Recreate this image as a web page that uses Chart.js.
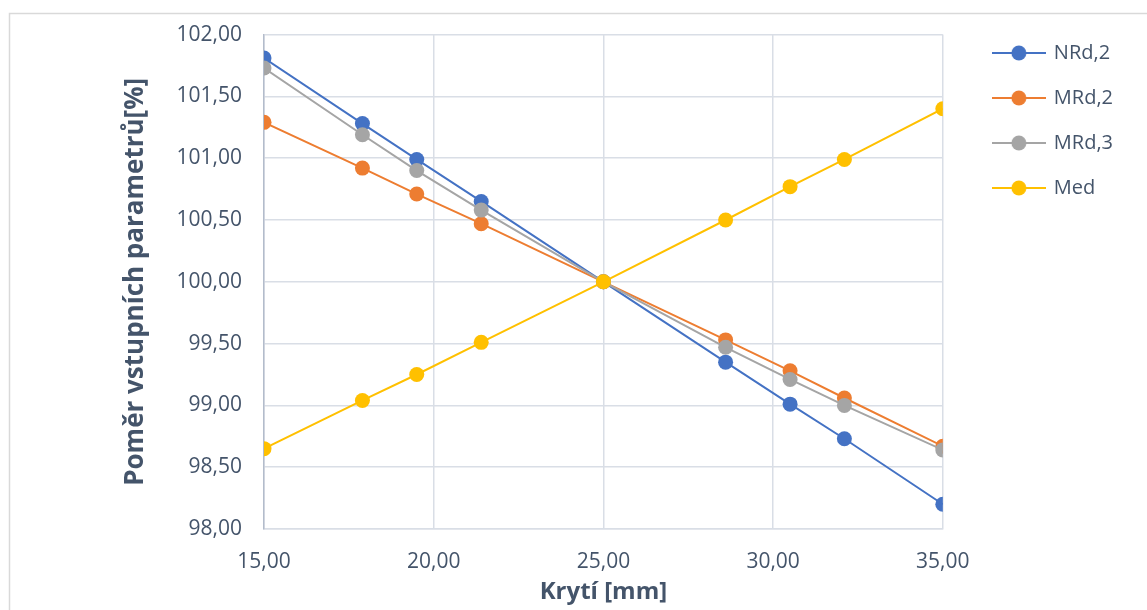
<!DOCTYPE html>
<html>
<head>
<meta charset="utf-8">
<script src="https://cdn.jsdelivr.net/npm/chart.js@4.4.1/dist/chart.umd.min.js"></script>
<style>
  html, body { margin: 0; padding: 0; background: #fff; }
  #wrap { position: relative; width: 1147px; height: 610px; }
</style>
</head>
<body>
<div id="wrap"><canvas id="graf"></canvas></div>
<script>
// tloušťka krytí [mm]
const kryti = [15, 17.9, 19.5, 21.4, 25, 28.6, 30.5, 32.1, 35];

// poměr vůči výchozímu stavu [%]
const nrd2 = [101.81, 101.28, 100.99, 100.65, 100.00, 99.35, 99.01, 98.73, 98.20];
const mrd2 = [101.29, 100.92, 100.71, 100.47, 100.00, 99.53, 99.28, 99.06, 98.67];
const mrd3 = [101.73, 101.19, 100.90, 100.58, 100.00, 99.47, 99.21, 99.00, 98.64];
const med  = [98.65, 99.04, 99.25, 99.51, 100.00, 100.50, 100.77, 100.99, 101.40];

const nazvy = ['NRd,2', 'MRd,2', 'MRd,3', 'Med'];
const barvy = ['#4472c4', '#ed7d31', '#a5a5a5', '#ffc000'];

// rozsah os
const xMin = 15, xMax = 35, xKrok = 5;
const yMin = 98, yMax = 102, yKrok = 0.5;

const textBarva = '#44546a';
const mrizka = '#d9dee6';
const pismo = "'Open Sans', sans-serif";

const cislo = v => Number(v).toFixed(2).replace('.', ',');

// ikonka do legendy: čára s kolečkem uprostřed
function ikonka(barva) {
  const c = document.createElement('canvas');
  c.width = 54; c.height = 16;
  const g = c.getContext('2d');
  g.strokeStyle = barva;
  g.lineWidth = 2;
  g.beginPath(); g.moveTo(0, 8); g.lineTo(54, 8); g.stroke();
  g.fillStyle = barva;
  g.beginPath(); g.arc(27, 8, 7.5, 0, Math.PI * 2); g.fill();
  return c;
}

const rady = [nrd2, mrd2, mrd3, med];
const datasets = rady.map((rada, i) => ({
  label: nazvy[i],
  data: kryti.map((x, j) => ({ x: x, y: rada[j] })),
  borderColor: barvy[i],
  backgroundColor: barvy[i],
  borderWidth: 2,
  pointRadius: 7.5,
  pointHoverRadius: 7.5,
  pointBorderWidth: 0,
  tension: 0,
  order: rady.length - i   // pozdější řada leží navrchu
}));

// rámeček kolem grafu
const ramecek = {
  id: 'ramecek',
  beforeDraw(chart) {
    const ctx = chart.ctx;
    ctx.save();
    ctx.fillStyle = '#fff';
    ctx.fillRect(0, 0, chart.width, chart.height);
    ctx.strokeStyle = '#d9d9d9';
    ctx.lineWidth = 1.5;
    ctx.strokeRect(9.5, 13.5, chart.width + 20, chart.height + 20);
    ctx.restore();
  }
};

// posun legendy vpravo nahoru
const posunLegendy = {
  id: 'posunLegendy',
  afterLayout(chart) {
    const lg = chart.legend;
    const dx = 26, dy = -13;
    lg.left += dx; lg.right += dx;
    lg.top += dy; lg.bottom += dy;
  }
};

new Chart(document.getElementById('graf'), {
  type: 'line',
  data: { datasets },
  plugins: [ramecek, posunLegendy],
  options: {
    responsive: true,
    maintainAspectRatio: false,
    animation: false,
    events: [],
    layout: { padding: { top: 31, right: 50, bottom: 0, left: 0 } },
    plugins: {
      tooltip: { enabled: false },
      legend: {
        position: 'right',
        align: 'start',
        labels: {
          usePointStyle: true,
          pointStyleWidth: 50,
          boxHeight: 16,
          padding: 25,
          color: textBarva,
          font: { family: pismo, size: 20 },
          generateLabels: () => nazvy.map((n, i) => ({
            text: n,
            pointStyle: ikonka(barvy[i]),
            fontColor: textBarva,
            hidden: false,
            lineWidth: 0,
            datasetIndex: i
          }))
        }
      }
    },
    scales: {
      x: {
        type: 'linear',
        min: xMin, max: xMax,
        afterFit(scale) { scale.height = 81; },
        ticks: {
          stepSize: xKrok,
          padding: 20,
          color: textBarva,
          font: { family: pismo, size: 21 },
          maxRotation: 0,
          callback: v => cislo(v)
        },
        grid: { color: mrizka, lineWidth: 1.5, drawTicks: false },
        border: { color: mrizka, width: 1.5 },
        title: {
          display: true,
          text: 'Krytí [mm]',
          color: textBarva,
          font: { family: pismo, size: 24, weight: 'bold' },
          padding: { top: 0, bottom: 3 }
        }
      },
      y: {
        min: yMin, max: yMax,
        afterFit(scale) { scale.width = 264; },
        ticks: {
          stepSize: yKrok,
          padding: 22,
          color: textBarva,
          font: { family: pismo, size: 21 },
          callback: v => cislo(v)
        },
        grid: { color: mrizka, lineWidth: 1.5, drawTicks: false },
        border: { color: '#b3bccb', width: 1.5 },
        title: {
          display: true,
          text: 'Poměr vstupních parametrů[%]',
          color: textBarva,
          font: { family: pismo, size: 26, weight: 'bold' },
          padding: { top: 120, bottom: 0 }
        }
      }
    }
  }
});
</script>
</body>
</html>
